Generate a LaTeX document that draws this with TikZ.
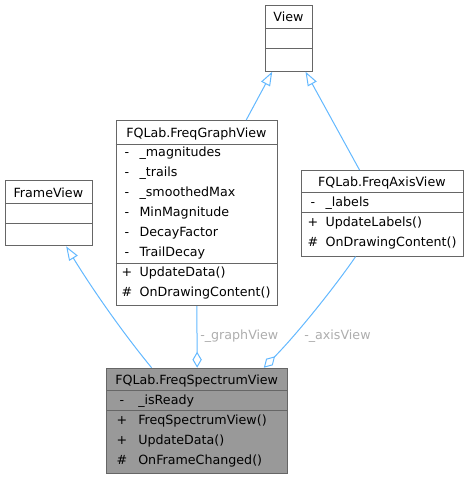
\documentclass[tikz,border=0pt]{standalone}
\usepackage{fontspec}
\setmainfont{DejaVu Sans}
\usetikzlibrary{arrows.meta}
\definecolor{edgeblue}{HTML}{63B8FF}
\definecolor{boxgray}{HTML}{666666}
\definecolor{fillgray}{HTML}{999999}
\definecolor{labelgray}{HTML}{ADADAD}
\begin{document}
\begin{tikzpicture}[x=0.75pt, y=-0.75pt,
    font=\fontsize{9.5pt}{11pt}\selectfont,
    classbox/.style={rectangle, draw=boxgray, fill=white, anchor=north west, inner sep=0pt, line width=0.75pt},
    title/.style={anchor=base, inner sep=0pt},
    member/.style={anchor=base west, inner sep=0pt},
    vis/.style={anchor=base, inner sep=0pt},
    inherit/.style={draw=edgeblue, line width=0.75pt, -{Triangle[open, length=10.5pt, width=7.5pt]}},
    aggr/.style={draw=edgeblue, line width=0.75pt, -{Diamond[open, length=12pt, width=7pt]}},
    rolelabel/.style={anchor=west, text=labelgray, inner sep=0pt}
]
    \useasboundingbox (0,0) rectangle (468,479);

    % View
    \node[classbox, minimum width=35.25pt, minimum height=49.5pt] (view) at (265,4.7) {};
    \node[title] (view-t) at (288.5,21.9) {View};
    \draw[boxgray, line width=0.75pt] (265,28.7) -- (312,28.7) (265,48.7) -- (312,48.7);

    % FrameView
    \node[classbox, minimum width=65pt, minimum height=49pt] (frameview) at (5,180) {};
    \node[title] (frameview-t) at (48.35,197) {FrameView};
    \draw[boxgray, line width=0.75pt] (5,203.3) -- (91.7,203.3) (5,223.3) -- (91.7,223.3);

    % FreqGraphView
    \node[classbox, minimum width=121pt, minimum height=138.75pt] (graphview) at (115.7,120) {};
    \node[title] (graphview-t) at (196.35,137) {FQLab.FreqGraphView};
    \draw[boxgray, line width=0.75pt] (115.7,144) -- (277,144) (115.7,263.3) -- (277,263.3);
    \foreach \sym/\name [count=\i] in {-/\_magnitudes, -/\_trails, -/\_smoothedMax,
        -/MinMagnitude, -/DecayFactor, -/TrailDecay, +/UpdateData(), \#/OnDrawingContent()} {
        \node[vis] (graphview-v\i) at (127,136.7+20*\i) {\sym};
        \node[member] (graphview-m\i) at (139.3,136.7+20*\i) {\name};
    }

    % FreqAxisView
    \node[classbox, minimum width=121.25pt, minimum height=64.25pt] (axisview) at (301,170) {};
    \node[title] (axisview-t) at (381.85,186.7) {FQLab.FreqAxisView};
    \draw[boxgray, line width=0.75pt] (301,192.7) -- (462.7,192.7) (301,212.7) -- (462.7,212.7);
    \foreach \sym/\name [count=\i] in {-/\_labels, +/UpdateLabels(), \#/OnDrawingContent()} {
        \node[vis] (axisview-v\i) at (313,186.2+20*\i) {\sym};
        \node[member] (axisview-m\i) at (325.3,186.2+20*\i) {\name};
    }

    % FreqSpectrumView
    \node[classbox, fill=fillgray, minimum width=136pt, minimum height=79.2pt] (spectrumview) at (106,367.7) {};
    \node[title] (spectrumview-t) at (196.65,384.7) {FQLab.FreqSpectrumView};
    \draw[boxgray, line width=0.75pt] (106,390.7) -- (287.3,390.7) (106,410.7) -- (287.3,410.7);
    \foreach \sym/\name [count=\i] in {-/\_isReady, +/FreqSpectrumView(), +/UpdateData(), \#/OnFrameChanged()} {
        \node[vis] (spectrumview-v\i) at (122,384.7+20*\i) {\sym};
        \node[member] (spectrumview-m\i) at (138,384.7+20*\i) {\name};
    }

    % Inheritance
    \draw[inherit] ([xshift=37pt]graphview.north) -- ([xshift=-12.6pt]view.south);
    \draw[inherit] ([xshift=-17.1pt]axisview.north) -- ([xshift=12.4pt]view.south);
    \draw[inherit] ([xshift=-34.2pt]spectrumview.north) .. controls +(-31,-37.7) and +(24.3,39.7) .. ([xshift=13pt]frameview.south);

    % Aggregation
    \draw[aggr] (graphview.south) -- (spectrumview.north);
    \draw[aggr] ([xshift=-20.1pt]axisview.south) .. controls +(-15,22.3) and +(36.7,-37.3) .. ([xshift=50pt]spectrumview.north);
    \node[rolelabel] (graphview-role) at (200,335.7) {-\_graphView};
    \node[rolelabel] (axisview-role) at (304,336) {-\_axisView};
\end{tikzpicture}
\end{document}
